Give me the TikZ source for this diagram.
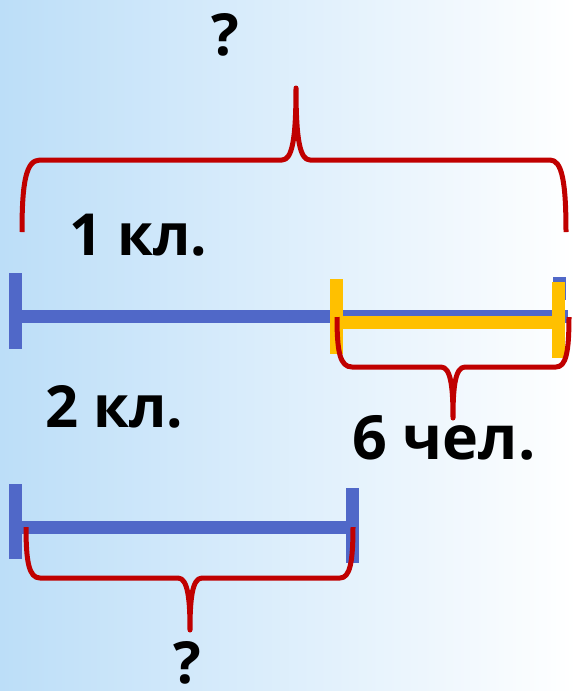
\documentclass[tikz,border=0pt]{standalone}
\usepackage{fontspec}
\setmainfont{Open Sans}
\usetikzlibrary{positioning}
\definecolor{segblue}{RGB}{80,104,200}
\definecolor{segyellow}{RGB}{255,192,0}
\definecolor{bracered}{RGB}{192,0,0}
\definecolor{skyblue}{RGB}{188,222,248}
\tikzstyle{segment} = [line width=13pt]
\tikzstyle{brace} = [bracered, line width=5pt, line join=round]
\tikzstyle{label} = [inner sep=0pt, font=\bfseries\fontsize{58}{70}\selectfont]

\begin{document}
\begin{tikzpicture}[x=1pt, y=-1pt]

        %background
        \shade[left color=skyblue, right color=white] (0,0) rectangle (577,691);
        \useasboundingbox (0,0) rectangle (577,691);

        %1 class
        \coordinate (s1) at (15.5,316.5);
        \coordinate (e1) at (568,316.5);
        \draw [segment, segblue] (s1) -- (e1);
        \draw [segment, segblue] (15.5,273) -- (15.5,349);
        \draw [segment, segblue] (559.5,277) -- (559.5,300);

        %6 people
        \coordinate (s6) at (336.5,322);
        \coordinate (e6) at (558,322);
        \draw [segment, segyellow] (s6) -- (e6);
        \draw [segment, segyellow] (336.5,279) -- (336.5,354);
        \draw [segment, segyellow] (558,282) -- (558,358);

        %2 class
        \coordinate (s2) at (15.5,527);
        \coordinate (e2) at (352.5,527);
        \draw [segment, segblue] (s2) -- (e2);
        \draw [segment, segblue] (15.5,484) -- (15.5,559);
        \draw [segment, segblue] (352.5,488) -- (352.5,563);

        %braces
        \draw [brace] (22,232) .. controls (22,182) and (26,160) .. (40,160)
                -- (282,160) .. controls (292,160) and (296,140) .. (296,88)
                .. controls (296,140) and (300,160) .. (310,160)
                -- (550,160) .. controls (562,160) and (566,182) .. (566,232);
        \draw [brace] (337,317) .. controls (337,352) and (340,367) .. (352,367)
                -- (441,367) .. controls (451,367) and (453,388) .. (453,418)
                .. controls (453,388) and (455,367) .. (465,367)
                -- (556,367) .. controls (566,367) and (569,352) .. (569,317);
        \draw [brace] (26,527) .. controls (26,562) and (29,578) .. (40,578)
                -- (178,578) .. controls (188,578) and (190,600) .. (190,630)
                .. controls (190,600) and (192,578) .. (202,578)
                -- (340,578) .. controls (350,578) and (353,562) .. (353,527);

        %labels
        \node [label, anchor=base] (qall) at (225,55) {?};
        \node [label, anchor=base west] (k1) at (69,255) {1 кл.};
        \node [label, anchor=base west] (k2) at (45,427) {2 кл.};
        \node [label, anchor=base west, font=\bfseries\fontsize{61}{70}\selectfont] (p6) at (352,459) {6 чел.};
        \node [label, anchor=base] (qk2) at (187,683) {?};

\end{tikzpicture}
\end{document}
